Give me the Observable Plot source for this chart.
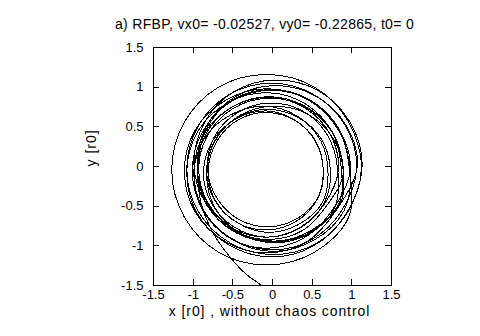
<!DOCTYPE html>
<html><head><meta charset="utf-8">
<script src="https://cdn.jsdelivr.net/npm/d3@7"></script>
<script src="https://cdn.jsdelivr.net/npm/@observablehq/plot@0.6"></script>
<style>body{margin:0;background:#fff} svg{display:block}</style>
</head><body><div id="chart"></div>
<script>
const titleText = "a) RFBP, vx0= -0.02527, vy0= -0.22865, t0= 0";
const xLabel = "x [r0] , without chaos control";
const yLabel = "y [r0]";
const xTicks = [-1.5, -1, -0.5, 0, 0.5, 1, 1.5];
const yTicks = [-1.5, -1, -0.5, 0, 0.5, 1, 1.5];

// Trajectory, loop by loop (counter-clockwise), then the escape tail
const orbitX = [
  0.90, 0.76, 0.41, -0.05, -0.50, -0.82, -0.93, -0.80, -0.48, -0.05, 0.36, 0.65,
  0.73, 0.62, 0.32, -0.07, -0.46, -0.73, -0.83, -0.72, -0.44, -0.07, 0.30, 0.56,
  0.64, 0.55, 0.29, -0.08, -0.46, -0.75, -0.87, -0.77, -0.49, -0.08, 0.34, 0.65,
  0.83, 0.73, 0.42, -0.03, -0.49, -0.85, -0.99, -0.88, -0.53, -0.03, 0.48, 0.87,
  1.06, 0.92, 0.53, 0.00, -0.54, -0.93, -1.08, -0.94, -0.54, 0.00, 0.55, 0.95,
  1.13, 0.97, 0.57, 0.03, -0.49, -0.86, -0.99, -0.84, -0.47, 0.03, 0.51, 0.86,
  0.89, 0.76, 0.41, -0.05, -0.51, -0.84, -0.95, -0.82, -0.49, -0.05, 0.39, 0.70,
  0.89, 0.78, 0.46, 0.03, -0.40, -0.72, -0.83, -0.72, -0.40, 0.03, 0.46, 0.78,
  0.82, 0.69, 0.38, -0.04, -0.44, -0.73, -0.82, -0.70, -0.42, -0.04, 0.32, 0.58,
  0.64, 0.55, 0.30, -0.06, -0.43, -0.70, -0.81, -0.72, -0.44, -0.06, 0.33, 0.63,
  0.70, 0.61, 0.32, -0.10, -0.53, -0.86, -0.99, -0.88, -0.56, -0.10, 0.38, 0.74,
  0.98, 0.85, 0.50, 0.00, -0.50, -0.87, -1.01, -0.88, -0.51, 0.00, 0.52, 0.90,
  0.98, 0.83, 0.45, -0.08, -0.60, -0.98, -1.11, -0.97, -0.59, -0.08, 0.43, 0.79,
  1.07, 0.92, 0.54, 0.03, -0.47, -0.83, -0.95, -0.81, -0.45, 0.03, 0.50, 0.84,
  0.87, 0.76, 0.43, -0.05, -0.55, -0.93, -1.08, -0.96, -0.58, -0.05, 0.50, 0.92,
  1.12, 0.96, 0.53, -0.08, -0.68, -1.11, -1.27, -1.11, -0.68, -0.08, 0.53, 0.96,
  0.97, 0.84, 0.47, -0.03, -0.52, -0.84,
  -0.94, -0.92, -0.85, -0.73, -0.52, -0.33, -0.14, 0.00
];
const orbitY = [
  -0.05, 0.42, 0.75, 0.86, 0.73, 0.39, -0.05, -0.48, -0.79, -0.89, -0.76, -0.46,
  -0.06, 0.34, 0.62, 0.72, 0.61, 0.32, -0.06, -0.44, -0.71, -0.80, -0.69, -0.42,
  -0.06, 0.31, 0.58, 0.70, 0.60, 0.33, -0.06, -0.46, -0.76, -0.89, -0.78, -0.48,
  -0.04, 0.40, 0.73, 0.87, 0.76, 0.43, -0.04, -0.53, -0.90, -1.05, -0.93, -0.56,
  -0.02, 0.51, 0.90, 1.05, 0.91, 0.52, -0.02, -0.56, -0.96, -1.11, -0.97, -0.57,
  0.03, 0.57, 0.96, 1.09, 0.94, 0.55, 0.03, -0.47, -0.83, -0.95, -0.81, -0.45,
  -0.04, 0.43, 0.76, 0.88, 0.75, 0.41, -0.04, -0.49, -0.81, -0.92, -0.80, -0.47,
  -0.10, 0.33, 0.65, 0.76, 0.65, 0.33, -0.10, -0.53, -0.85, -0.96, -0.85, -0.53,
  -0.02, 0.40, 0.70, 0.80, 0.68, 0.38, -0.02, -0.40, -0.67, -0.76, -0.65, -0.38,
  -0.05, 0.30, 0.57, 0.68, 0.59, 0.32, -0.05, -0.43, -0.71, -0.83, -0.73, -0.45,
  -0.09, 0.32, 0.63, 0.76, 0.65, 0.35, -0.09, -0.54, -0.89, -1.03, -0.91, -0.57,
  -0.04, 0.45, 0.82, 0.96, 0.83, 0.46, -0.04, -0.55, -0.92, -1.07, -0.93, -0.56,
  -0.07, 0.46, 0.84, 0.98, 0.83, 0.45, -0.07, -0.58, -0.95, -1.09, -0.95, -0.57,
  0.01, 0.53, 0.89, 1.02, 0.88, 0.51, 0.01, -0.48, -0.82, -0.94, -0.80, -0.46,
  -0.05, 0.42, 0.78, 0.93, 0.81, 0.46, -0.05, -0.57, -0.97, -1.14, -1.01, -0.61,
  -0.04, 0.56, 1.00, 1.16, 1.00, 0.56, -0.04, -0.64, -1.08, -1.24, -1.08, -0.64,
  -0.03, 0.47, 0.84, 0.97, 0.83, 0.46,
  0.01, -0.37, -0.62, -0.87, -1.16, -1.36, -1.50, -1.65
];
const orbit = orbitX.map((x, i) => ({x, y: orbitY[i]}));

const font = "'Liberation Sans', Arial, Helvetica, sans-serif";
const fmt = d => String(d);

const chart = Plot.plot({
  width: 480,
  height: 336,
  marginLeft: 153,
  marginRight: 89,
  marginTop: 47,
  marginBottom: 51,
  style: {fontFamily: font, fontSize: "13px", background: "white", color: "black"},
  x: {domain: [-1.5, 1.5]},
  y: {domain: [-1.5, 1.5]},
  marks: [
    Plot.line(orbit, {x: "x", y: "y", curve: "catmull-rom", stroke: "black", strokeWidth: 1, clip: true, shapeRendering: "crispEdges"}),
    Plot.frame({stroke: "black", shapeRendering: "crispEdges"}),
    Plot.tickX(xTicks, {x: d => d, insetTop: 232, stroke: "black", shapeRendering: "crispEdges"}),
    Plot.tickX(xTicks, {x: d => d, insetBottom: 232, stroke: "black", shapeRendering: "crispEdges"}),
    Plot.tickY(yTicks, {y: d => d, insetRight: 232, stroke: "black", shapeRendering: "crispEdges"}),
    Plot.tickY(yTicks, {y: d => d, insetLeft: 232, stroke: "black", shapeRendering: "crispEdges"}),
    Plot.axisX(xTicks, {tickSize: 0, tickPadding: 4, tickFormat: fmt, label: null, fontSize: 13}),
    Plot.axisY(yTicks, {tickSize: 0, tickPadding: 10, tickFormat: fmt, label: null, fontSize: 13}),
    Plot.text([titleText], {text: d => d, frameAnchor: "top", dy: -28, dx: -8, fontSize: 14}),
    Plot.text([xLabel], {text: d => d, frameAnchor: "bottom", dy: 30, dx: -3, fontSize: 14}),
    Plot.text([yLabel], {text: d => d, frameAnchor: "left", dx: -62, rotate: -90, fontSize: 14})
  ]
});
const spacing = new Map([[titleText, "0.32px"], [xLabel, "0.9px"], [yLabel, "1px"]]);
d3.select(chart).selectAll("text").each(function() {
  const s = spacing.get(this.textContent);
  if (s) this.style.letterSpacing = s;
});
document.getElementById("chart").appendChild(chart);
</script>
</body></html>
